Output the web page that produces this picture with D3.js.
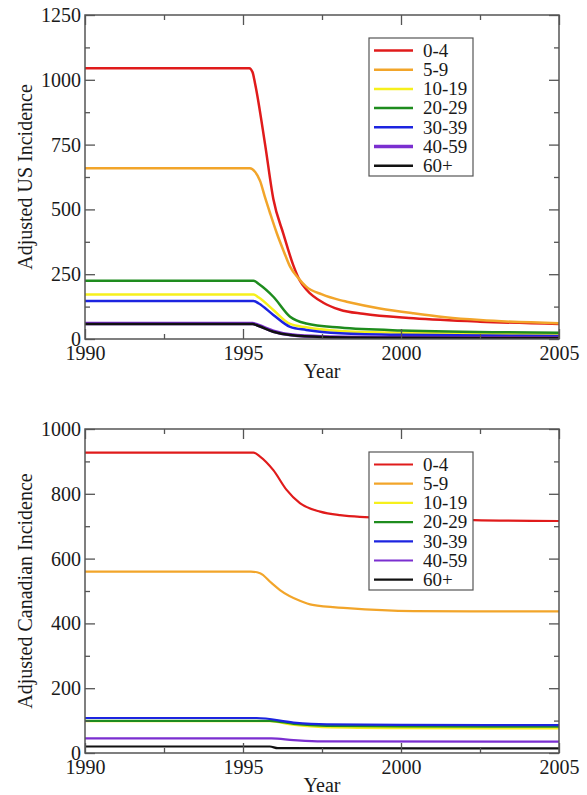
<!DOCTYPE html>
<html>
<head>
<meta charset="utf-8">
<script src="https://cdn.jsdelivr.net/npm/d3@7"></script>
<style>
  body { margin: 0; background: #fff; }
  svg { display: block; }
  svg text { font-family: "Liberation Serif", "Times New Roman", serif !important; fill: #1a1a1a; }
</style>
</head>
<body>
<div id="chart"></div>
<script>
//////////
// DATA //
//////////

var ageGroups = ["0-4", "5-9", "10-19", "20-29", "30-39", "40-59", "60+"];
var groupColors = ["#e01b1b", "#f2a52a", "#f6f01c", "#1e8c1e", "#1c24e0", "#7b2fd0", "#111111"];

var xTicks = [1990, 1995, 2000, 2005];
var usYTicks = [0, 250, 500, 750, 1000, 1250];
var caYTicks = [0, 200, 400, 600, 800, 1000];

// US series, [year, incidence]
var us0_4 = [[1990,1045],[1995.2,1045],[1995.3,1030],[1995.38,987],[1995.7,750],[1995.96,540],[1996.28,405],[1996.59,285],[1996.8,225],[1997.01,190],[1997.54,140],[1998.07,113],[1998.8,97],[2000.4,80],[2002.5,67],[2005,58]];
var us5_9 = [[1990,659],[1995.22,659],[1995.38,645],[1995.54,610],[1995.7,545],[1995.85,488],[1996.07,408],[1996.3,335],[1996.49,279],[1996.75,235],[1997.0,202],[1997.5,172],[1998.07,150],[1998.28,144],[1999.33,118],[2000.39,99],[2001.4,84],[2002.5,73],[2005,61]];
var us10_19 = [[1990,172],[1995.33,172],[1995.5,160],[1995.96,112],[1996.49,58],[1997.0,45],[1998.07,31],[2000,24],[2005,18]];
var us20_29 = [[1990,225],[1995.33,225],[1995.5,212],[1995.96,163],[1996.49,86],[1997.0,60],[1998.07,44],[2000,33],[2005,24]];
var us30_39 = [[1990,147],[1995.33,147],[1995.5,137],[1995.96,93],[1996.49,47],[1997.0,35],[1998.07,22],[2000,16],[2005,12]];
var us40_59 = [[1990,60],[1995.3,60],[1995.5,52],[1995.96,30],[1996.5,16],[1997.5,9],[2000,6],[2005,5]];
var us60_plus = [[1990,58],[1995.3,58],[1995.5,50],[1995.96,28],[1996.5,15],[1997.5,8],[2000,5],[2005,4]];

// Canadian series, [year, incidence]
var ca0_4 = [[1990,927],[1995.33,927],[1995.54,915],[1995.96,873],[1996.38,812],[1996.8,771],[1997.44,745],[1998.07,734],[1998.7,729],[2000,726],[2002.3,719],[2005,716]];
var ca5_9 = [[1990,560],[1995.25,560],[1995.54,555],[1995.9,525],[1996.17,503],[1996.8,470],[1997.2,457],[1998.3,447],[2000.4,438],[2005,437]];
var ca10_19 = [[1990,98],[1995.85,98],[1996.5,88],[1997.5,80],[2000,77],[2005,76]];
var ca20_29 = [[1990,99],[1995.85,99],[1996.6,90],[1997.65,84],[2000,82],[2005,81]];
var ca30_39 = [[1990,108],[1995.43,108],[1996.6,94],[1997.65,88.5],[2000,87],[2005,86]];
var ca40_59 = [[1990,45],[1995.9,45],[1996.6,40],[1997.5,36],[2005,35]];
var ca60_plus = [[1990,20],[1995.85,20],[1996.1,15],[2005,14]];

var usSeries = [us0_4, us5_9, us10_19, us20_29, us30_39, us40_59, us60_plus];
var caSeries = [ca0_4, ca5_9, ca10_19, ca20_29, ca30_39, ca40_59, ca60_plus];

////////////
// LAYOUT //
////////////

var svgWidth = 587, svgHeight = 795;
var plotLeft = 85, plotRight = 559, plotH = 324;
var serif = "'Liberation Serif', 'Times New Roman', serif";

var svg = d3.select("#chart").append("svg")
  .attr("width", svgWidth)
  .attr("height", svgHeight)
  .attr("font-family", serif);

function midpoints(ticks) {
  var out = [];
  for (var i = 0; i < ticks.length - 1; i++) out.push((ticks[i] + ticks[i + 1]) / 2);
  return out;
}

function drawPanel(cfg) {
  var g = svg.append("g").attr("transform", "translate(0," + cfg.top + ")");

  var x = d3.scaleLinear().domain([1990, 2005]).range([plotLeft, plotRight]);
  var y = d3.scaleLinear().domain([0, cfg.yMax]).range([plotH, 0]);

  var clipId = "clip" + cfg.id;
  g.append("clipPath").attr("id", clipId)
    .append("rect")
    .attr("x", plotLeft).attr("y", 0)
    .attr("width", plotRight - plotLeft).attr("height", plotH);

  // lines
  var line = d3.line()
    .x(function (d) { return x(d[0]); })
    .y(function (d) { return y(d[1]); })
    .curve(d3.curveMonotoneX);

  g.append("g").attr("clip-path", "url(#" + clipId + ")")
    .selectAll("path")
    .data(cfg.series)
    .enter().append("path")
    .attr("fill", "none")
    .attr("stroke", function (d, i) { return groupColors[i]; })
    .attr("stroke-width", function (d, i) { return i === 5 ? cfg.lineW + cfg.purpleExtra : cfg.lineW; })
    .attr("stroke-linejoin", "round")
    .attr("d", line);

  // ticks (inward, on all four sides)
  var xMinor = midpoints(xTicks), yMinor = midpoints(cfg.yTicks);

  function styleAxis(sel) {
    sel.attr("font-family", serif).attr("font-size", 20);
    sel.select(".domain").remove();
    sel.selectAll("line").attr("stroke", "#555").attr("stroke-width", 1.3);
    sel.selectAll("text").attr("fill", "#1a1a1a");
  }

  g.append("g").attr("transform", "translate(0," + plotH + ")")
    .call(d3.axisBottom(x).tickValues(xTicks).tickSize(-10).tickPadding(7).tickFormat(d3.format("d")))
    .call(styleAxis);
  g.append("g").attr("transform", "translate(0," + plotH + ")")
    .call(d3.axisBottom(x).tickValues(xMinor).tickSize(-5).tickFormat(""))
    .call(styleAxis);
  g.append("g")
    .call(d3.axisTop(x).tickValues(xTicks).tickSize(-10).tickFormat(""))
    .call(styleAxis);
  g.append("g")
    .call(d3.axisTop(x).tickValues(xMinor).tickSize(-5).tickFormat(""))
    .call(styleAxis);

  g.append("g").attr("transform", "translate(" + plotLeft + ",0)")
    .call(d3.axisLeft(y).tickValues(cfg.yTicks).tickSize(-10).tickPadding(4).tickFormat(d3.format("d")))
    .call(styleAxis);
  g.append("g").attr("transform", "translate(" + plotLeft + ",0)")
    .call(d3.axisLeft(y).tickValues(yMinor).tickSize(-5).tickFormat(""))
    .call(styleAxis);
  g.append("g").attr("transform", "translate(" + plotRight + ",0)")
    .call(d3.axisRight(y).tickValues(cfg.yTicks).tickSize(-10).tickFormat(""))
    .call(styleAxis);
  g.append("g").attr("transform", "translate(" + plotRight + ",0)")
    .call(d3.axisRight(y).tickValues(yMinor).tickSize(-5).tickFormat(""))
    .call(styleAxis);

  // frame
  g.append("rect")
    .attr("x", plotLeft).attr("y", 0)
    .attr("width", plotRight - plotLeft).attr("height", plotH)
    .attr("fill", "none").attr("stroke", "#555").attr("stroke-width", 1.5);

  // axis titles
  g.append("text")
    .attr("x", (plotLeft + plotRight) / 2)
    .attr("y", plotH + 39)
    .attr("text-anchor", "middle")
    .attr("font-size", 20)
    .text("Year");

  g.append("text")
    .attr("transform", "translate(32," + (plotH / 2) + ") rotate(-90)")
    .attr("text-anchor", "middle")
    .attr("font-size", 20)
    .text(cfg.yLabel);

  // legend
  var lg = g.append("g").attr("transform", "translate(369," + cfg.legendTop + ")");
  lg.append("rect")
    .attr("width", 104).attr("height", 138)
    .attr("fill", "#fff").attr("stroke", "#555").attr("stroke-width", 1.2);

  var rows = lg.selectAll(".row")
    .data(ageGroups)
    .enter().append("g")
    .attr("class", "row")
    .attr("transform", function (d, i) { return "translate(0," + (12.5 + i * 19.2) + ")"; });

  rows.append("line")
    .attr("x1", 5).attr("x2", 44)
    .attr("stroke", function (d, i) { return groupColors[i]; })
    .attr("stroke-width", function (d, i) { return i === 5 ? cfg.lineW + cfg.purpleExtra : cfg.lineW; });

  rows.append("text")
    .attr("x", 54)
    .attr("dy", "0.33em")
    .attr("font-size", 19)
    .text(function (d) { return d; });
}

drawPanel({
  id: "us", top: 15, yMax: 1250, yTicks: usYTicks, series: usSeries,
  yLabel: "Adjusted US Incidence", legendTop: 23, lineW: 2.5, purpleExtra: 1
});

drawPanel({
  id: "ca", top: 429, yMax: 1000, yTicks: caYTicks, series: caSeries,
  yLabel: "Adjusted Canadian Incidence", legendTop: 23, lineW: 2.2, purpleExtra: 0
});
</script>
</body>
</html>
